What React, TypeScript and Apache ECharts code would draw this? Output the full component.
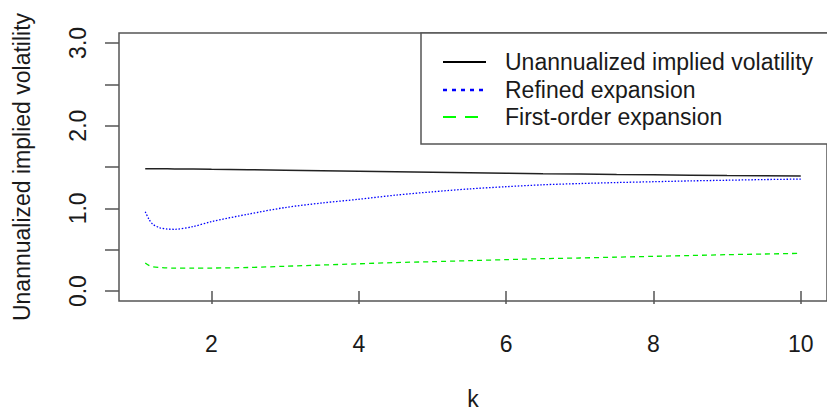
import React, { useEffect, useRef } from "react";
import * as echarts from "echarts";

const kValues = [1.1, 1.15, 1.2, 1.3, 1.4, 1.5, 1.75, 2, 2.5, 3, 3.5, 4, 4.5, 5, 5.5, 6, 6.5, 7, 7.5, 8, 8.5, 9, 9.5, 10];
const impliedVol = [1.48, 1.48, 1.48, 1.479, 1.478, 1.477, 1.475, 1.472, 1.467, 1.461, 1.455, 1.449, 1.443, 1.437, 1.431, 1.425, 1.419, 1.414, 1.409, 1.405, 1.401, 1.397, 1.394, 1.391];
const refinedExp = [0.96, 0.87, 0.81, 0.765, 0.75, 0.747, 0.78, 0.84, 0.93, 1.01, 1.065, 1.11, 1.16, 1.2, 1.235, 1.262, 1.285, 1.3, 1.312, 1.322, 1.332, 1.34, 1.348, 1.354];
const firstOrderExp = [0.34, 0.31, 0.295, 0.285, 0.28, 0.278, 0.277, 0.278, 0.285, 0.3, 0.315, 0.33, 0.345, 0.355, 0.368, 0.38, 0.392, 0.4, 0.41, 0.42, 0.43, 0.44, 0.448, 0.456];

const seriesNames = ["Unannualized implied volatility", "Refined expansion", "First-order expansion"];
const xTicks = [2, 4, 6, 8, 10];
const yTicks = [0, 0.5, 1, 1.5, 2, 2.5, 3];
const yLabels = [0, 1, 2, 3];

const FONT = "Liberation Sans, Arial, sans-serif";

export default function App() {
  const ref = useRef<HTMLDivElement>(null);
  useEffect(() => {
    if (!ref.current) return;
    const chart = echarts.init(ref.current, undefined, { renderer: "svg" });
    const pairs = (ys: number[]) => kValues.map((k, i) => [k, ys[i]]);
    const legendRows = [
      { y: 62, color: "#000000", dash: null as any, width: 2 },
      { y: 90, color: "#0000ff", dash: [4, 5], width: 2.5 },
      { y: 117, color: "#00ff00", dash: [13, 9], width: 2 },
    ];
    const legendEls: any[] = [
      {
        type: "rect",
        shape: { x: 421, y: 33, width: 420, height: 111 },
        style: { fill: "#fff", stroke: "#555", lineWidth: 1.5 },
        z: 10,
      },
    ];
    legendRows.forEach((r, i) => {
      legendEls.push({
        type: "line",
        shape: { x1: 443, y1: r.y, x2: 486, y2: r.y },
        style: { stroke: r.color, lineWidth: r.width, lineDash: r.dash || undefined },
        z: 11,
      });
      legendEls.push({
        type: "text",
        x: 505,
        y: r.y,
        style: { text: seriesNames[i], fontSize: 23, fontFamily: FONT, fill: "#1a1a1a", verticalAlign: "middle", align: "left" },
        z: 11,
      });
    });
    chart.setOption({
      animation: false,
      backgroundColor: "#fff",
      grid: { left: 119, top: 33, right: -1, bottom: 114, show: true, borderColor: "#555", borderWidth: 1.5, backgroundColor: "transparent" },
      xAxis: {
        type: "value",
        min: 0.744,
        max: 10.356,
        name: "k",
        nameLocation: "middle",
        nameGap: 86,
        nameTextStyle: { fontSize: 23, fontFamily: FONT, color: "#1a1a1a" },
        axisLine: { show: false },
        axisTick: { show: true, length: 13, customValues: xTicks, lineStyle: { color: "#555", width: 1.5 } },
        axisLabel: { customValues: xTicks, fontSize: 23, fontFamily: FONT, color: "#1a1a1a", margin: 31 },
        splitLine: { show: false },
      },
      yAxis: {
        type: "value",
        min: -0.12,
        max: 3.12,
        name: "Unannualized implied volatility",
        nameLocation: "middle",
        nameRotate: 90,
        nameGap: 86,
        nameTextStyle: { fontSize: 23, fontFamily: FONT, color: "#1a1a1a" },
        axisLine: { show: false },
        axisTick: { show: true, length: 14, customValues: yTicks, lineStyle: { color: "#555", width: 1.5 } },
        axisLabel: {
          customValues: yLabels,
          rotate: 90,
          fontSize: 23,
          fontFamily: FONT,
          color: "#1a1a1a",
          margin: 30,
          formatter: (v: number) => v.toFixed(1),
        },
        splitLine: { show: false },
      },
      series: [
        {
          name: seriesNames[0],
          type: "line",
          data: pairs(impliedVol),
          showSymbol: false,
          lineStyle: { color: "#222", width: 1.5 },
        },
        {
          name: seriesNames[1],
          type: "line",
          data: pairs(refinedExp),
          showSymbol: false,
          smooth: 0.3,
          lineStyle: { color: "#0000ff", width: 1.3, type: [1.5, 1.7] },
        },
        {
          name: seriesNames[2],
          type: "line",
          data: pairs(firstOrderExp),
          showSymbol: false,
          smooth: 0.3,
          lineStyle: { color: "#00ee00", width: 1.3, type: [5, 4] },
        },
      ],
      graphic: legendEls,
    });
    return () => chart.dispose();
  }, []);
  return <div ref={ref} style={{ position: "absolute", left: 0, top: 0, width: 827, height: 415 }} />;
}
